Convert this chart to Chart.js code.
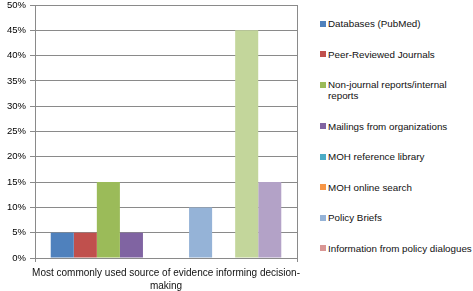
<!DOCTYPE html>
<html>
<head>
<meta charset="utf-8">
<script src="https://cdn.jsdelivr.net/npm/chart.js@4/dist/chart.umd.min.js"></script>
<style>
  body { margin: 0; background: #fff; }
  #wrap { position: relative; width: 473px; height: 291px; font-family: "Liberation Sans", sans-serif; }
  #box { position: absolute; left: 0; top: 0; width: 310px; height: 291px; }
  #legend { position: absolute; left: 320px; top: 18px; display: flex; flex-direction: column; gap: 19.5px; }
  .item { display: flex; align-items: flex-start; font-size: 9.8px; line-height: 11px; color: #111; white-space: nowrap; }
  .sw { width: 6px; height: 6px; margin: 2.5px 2px 0 0; flex: none; }
</style>
</head>
<body>
<div id="wrap">
  <div id="box"><canvas id="chart"></canvas></div>
  <div id="legend"></div>
</div>
<script>
let categoria = ["Most commonly used source of evidence informing decision-making"]
let tituloX = ["Most commonly used source of evidence informing decision-", "making"]
let series = [
    "Databases (PubMed)",
    "Peer-Reviewed Journals",
    ["Non-journal reports/internal", "reports"],
    "Mailings from organizations",
    "MOH reference library",
    "MOH online search",
    "Policy Briefs",
    "Information from policy dialogues",
    "Series 9",
    "Series 10"
]
let valores = [5, 5, 15, 5, 0, 0, 10, 0, 45, 15]
let colores = ["#4F81BD", "#C0504D", "#9BBB59", "#8064A2", "#4BACC6", "#F79646", "#95B3D7", "#D99694", "#C3D69B", "#B3A2C7"]
let enLeyenda = 8   // the original legend is cut off after 8 entries

let datasets = series.map((s, i) => ({
    label: Array.isArray(s) ? s.join(" ") : s,
    data: [valores[i]],
    backgroundColor: colores[i],
    borderWidth: 0
}))

// category label under the axis, each line centred
const etiquetaX = {
    id: "etiquetaX",
    afterDraw(chart) {
        let c = chart.ctx
        let a = chart.chartArea
        c.save()
        c.font = "10px 'Liberation Sans'"
        c.fillStyle = "#111"
        c.textAlign = "center"
        c.textBaseline = "middle"
        tituloX.forEach((t, i) => c.fillText(t, (a.left + a.right) / 2, a.bottom + 15 + i * 13))
        c.restore()
    }
}

let ctx = document.getElementById("chart").getContext("2d")
let chart = new Chart(ctx, {
    type: "bar",
    data: { labels: categoria, datasets: datasets },
    plugins: [etiquetaX],
    options: {
        responsive: true,
        maintainAspectRatio: false,
        animation: false,
        layout: { padding: { left: 3, right: 13, top: 0, bottom: 29 } },
        categoryPercentage: 0.88,
        barPercentage: 1,
        plugins: { legend: { display: false }, tooltip: { enabled: false } },
        scales: {
            x: {
                grid: { color: "#8a8a8a", tickLength: 4 },
                border: { color: "#8a8a8a" },
                ticks: { display: false }
            },
            y: {
                min: 0, max: 50,
                grid: { color: "#8a8a8a", tickLength: 5 },
                border: { color: "#8a8a8a" },
                ticks: { stepSize: 5, color: "#000", font: { family: "Liberation Sans", size: 9.5 }, padding: 4,
                         callback: v => v + "%" },
                afterFit: s => { s.paddingTop = 5; s.paddingBottom = 0 }
            }
        }
    }
})

let leg = document.getElementById("legend")
for (let i = 0; i < enLeyenda; i++) {
    let s = series[i]
    let txt = Array.isArray(s) ? s.join("<br>") : s
    leg.innerHTML += `<div class="item"><span class="sw" style="background:${colores[i]}"></span><span>${txt}</span></div>`
}
</script>
</body>
</html>
